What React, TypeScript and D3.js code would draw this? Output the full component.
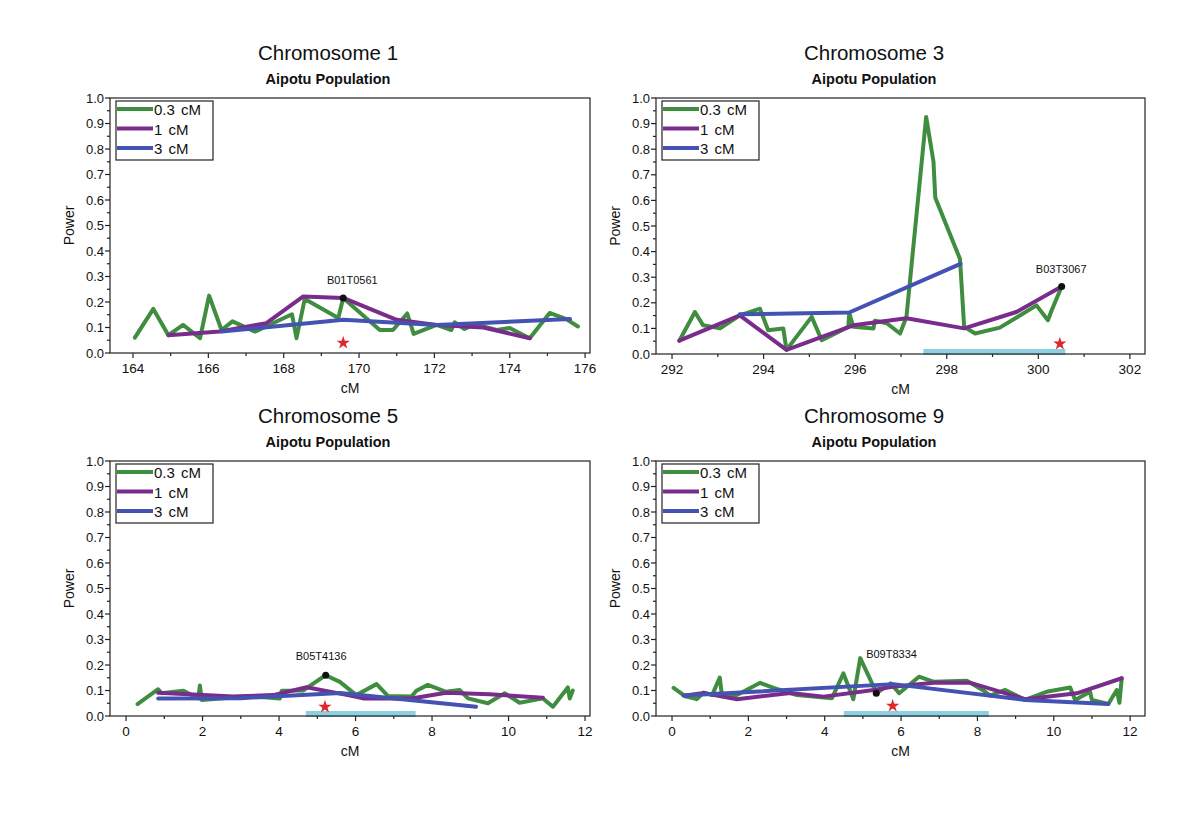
import React from "react";
import * as d3 from "d3";

type Pt = [number, number];

const seriesNames = ["0.3 cM", "1 cM", "3 cM"];
const seriesColors = ["#3f8d3f", "#7a2c8c", "#4452b2"];

// Chromosome 1
const chr1_03: Pt[] = [[164.05,0.06],[164.54,0.173],[164.94,0.07],[165.33,0.11],[165.78,0.058],[166.02,0.225],[166.35,0.09],[166.64,0.124],[167.24,0.084],[168.22,0.152],[168.34,0.058],[168.56,0.212],[169.45,0.137],[169.58,0.216],[170.55,0.09],[170.9,0.09],[171.28,0.155],[171.45,0.075],[172.06,0.11],[172.45,0.09],[172.54,0.12],[172.8,0.094],[173.07,0.113],[173.65,0.09],[174.0,0.098],[174.53,0.058],[175.06,0.157],[175.5,0.133],[175.81,0.104]];
const chr1_1: Pt[] = [[164.94,0.07],[166.3,0.084],[167.54,0.117],[168.52,0.222],[169.58,0.216],[171.0,0.13],[172.06,0.11],[173.3,0.1],[174.53,0.058]];
const chr1_3: Pt[] = [[166.35,0.084],[169.58,0.13],[172.06,0.11],[175.6,0.133]];

// Chromosome 3
const chr3_03: Pt[] = [[292.16,0.052],[292.5,0.164],[292.68,0.112],[293.05,0.1],[293.48,0.151],[293.92,0.177],[294.1,0.093],[294.43,0.1],[294.5,0.016],[295.05,0.145],[295.27,0.054],[295.85,0.106],[295.87,0.16],[295.96,0.106],[296.4,0.1],[296.43,0.13],[296.69,0.12],[296.98,0.08],[297.12,0.145],[297.55,0.926],[297.71,0.752],[297.75,0.61],[298.29,0.371],[298.38,0.106],[298.62,0.08],[299.16,0.103],[299.96,0.19],[300.21,0.132],[300.29,0.17],[300.51,0.264]];
const chr3_1: Pt[] = [[292.16,0.052],[293.48,0.151],[294.5,0.016],[295.96,0.112],[297.12,0.14],[298.38,0.1],[299.52,0.164],[300.51,0.264]];
const chr3_3: Pt[] = [[293.48,0.155],[295.87,0.162],[298.3,0.352]];

// Chromosome 5
const chr5_03: Pt[] = [[0.3,0.047],[0.84,0.105],[0.93,0.089],[1.5,0.099],[1.89,0.069],[1.93,0.12],[1.98,0.063],[3.24,0.078],[4.02,0.069],[4.07,0.099],[4.63,0.1],[5.22,0.16],[5.59,0.134],[6.02,0.082],[6.55,0.125],[6.85,0.078],[7.46,0.076],[7.59,0.099],[7.89,0.122],[8.37,0.095],[8.72,0.102],[8.94,0.069],[9.46,0.05],[9.9,0.089],[10.29,0.052],[10.9,0.069],[11.16,0.036],[11.55,0.112],[11.6,0.069],[11.68,0.1]];
const chr5_1: Pt[] = [[0.84,0.091],[2.8,0.076],[3.85,0.082],[4.72,0.113],[5.8,0.082],[6.2,0.069],[7.46,0.069],[8.37,0.091],[9.5,0.085],[10.9,0.072]];
const chr5_3: Pt[] = [[0.84,0.069],[3.0,0.07],[5.6,0.09],[9.15,0.036]];

// Chromosome 9
const chr9_03: Pt[] = [[0.04,0.11],[0.35,0.077],[0.65,0.066],[0.83,0.092],[1.05,0.082],[1.25,0.151],[1.31,0.077],[1.7,0.082],[2.31,0.13],[2.66,0.11],[3.27,0.082],[4.19,0.07],[4.49,0.167],[4.75,0.066],[4.93,0.227],[5.24,0.128],[5.35,0.089],[5.73,0.128],[5.95,0.089],[6.47,0.154],[6.86,0.134],[7.72,0.138],[8.16,0.1],[8.33,0.08],[8.73,0.102],[9.25,0.063],[9.81,0.095],[10.43,0.112],[10.56,0.063],[10.95,0.095],[11.0,0.063],[11.43,0.047],[11.65,0.102],[11.72,0.052],[11.78,0.148]];
const chr9_1: Pt[] = [[0.35,0.08],[0.83,0.09],[1.7,0.066],[3.1,0.09],[3.97,0.076],[5.28,0.102],[5.73,0.114],[6.86,0.13],[7.82,0.13],[9.25,0.066],[10.6,0.089],[11.78,0.148]];
const chr9_3: Pt[] = [[0.3,0.08],[5.8,0.125],[9.25,0.063],[11.43,0.047]];

const yTicks = [0, 0.1, 0.2, 0.3, 0.4, 0.5, 0.6, 0.7, 0.8, 0.9, 1.0];

interface PanelDef {
  title: string;
  domain: [number, number];
  xTicks: number[];
  series: Pt[][];
  marker: { name: string; x: number; y: number; labelX: number; labelY: number };
  star: Pt;
  interval: [number, number] | null;
  left: number;
  top: number;
  width: number;
  height: number;
}

const panels: PanelDef[] = [
  { title: "Chromosome 1", domain: [163.39, 176.13], xTicks: [164, 166, 168, 170, 172, 174, 176],
    series: [chr1_03, chr1_1, chr1_3],
    marker: { name: "B01T0561", x: 169.58, y: 0.216, labelX: 169.82, labelY: 0.27 },
    star: [169.58, 0.04], interval: null, left: 110, top: 98, width: 480, height: 255 },
  { title: "Chromosome 3", domain: [291.65, 302.33], xTicks: [292, 294, 296, 298, 300, 302],
    series: [chr3_03, chr3_1, chr3_3],
    marker: { name: "B03T3067", x: 300.51, y: 0.264, labelX: 300.5, labelY: 0.318 },
    star: [300.47, 0.04], interval: [297.49, 300.59], left: 656, top: 98, width: 489, height: 256 },
  { title: "Chromosome 5", domain: [-0.42, 12.13], xTicks: [0, 2, 4, 6, 8, 10, 12],
    series: [chr5_03, chr5_1, chr5_3],
    marker: { name: "B05T4136", x: 5.22, y: 0.16, labelX: 5.1, labelY: 0.22 },
    star: [5.2, 0.036], interval: [4.7, 7.57], left: 110, top: 461, width: 480, height: 255 },
  { title: "Chromosome 9", domain: [-0.42, 12.39], xTicks: [0, 2, 4, 6, 8, 10, 12],
    series: [chr9_03, chr9_1, chr9_3],
    marker: { name: "B09T8334", x: 5.35, y: 0.089, labelX: 5.75, labelY: 0.227 },
    star: [5.78, 0.04], interval: [4.5, 8.3], left: 656, top: 461, width: 489, height: 255 },
];

const FONT = "'Liberation Sans', Arial, Helvetica, sans-serif";

function Panel({ p }: { p: PanelDef }) {
  const x = d3.scaleLinear().domain(p.domain).range([p.left, p.left + p.width]);
  const y = d3.scaleLinear().domain([0, 1]).range([p.top + p.height, p.top]);
  const line = d3.line<Pt>().x((d) => x(d[0])).y((d) => y(d[1]));
  const bottom = p.top + p.height;
  const minorX = d3.range(Math.ceil(p.domain[0]), Math.floor(p.domain[1]) + 1).filter((v) => !p.xTicks.includes(v));
  const minorY = d3.range(0.05, 1, 0.1);
  const star = d3.symbol().type(d3.symbolStar).size(55)();
  const titleX = p.left + 218;
  return (
    <g fontFamily={FONT}>
      <text x={titleX} y={p.top - 38} textAnchor="middle" fontSize={20.5} fill="#111">{p.title}</text>
      <text x={titleX} y={p.top - 14} textAnchor="middle" fontSize={14.5} fontWeight="bold" fill="#111">Aipotu Population</text>
      {p.interval && (
        <rect x={x(p.interval[0])} y={bottom - 5} width={x(p.interval[1]) - x(p.interval[0])} height={6} fill="#8dd0e0" />
      )}
      <rect x={p.left} y={p.top} width={p.width} height={p.height} fill="none" stroke="#222" strokeWidth={1.2} />
      {yTicks.map((t) => (
        <g key={"y" + t}>
          <line x1={p.left - 5} x2={p.left} y1={y(t)} y2={y(t)} stroke="#222" strokeWidth={1.2} />
          <text x={p.left - 6} y={y(t) + 4.5} textAnchor="end" fontSize={13} fill="#111">{t.toFixed(1)}</text>
        </g>
      ))}
      {minorY.map((t) => (
        <line key={"my" + t} x1={p.left - 3} x2={p.left} y1={y(t)} y2={y(t)} stroke="#222" strokeWidth={1.2} />
      ))}
      {p.xTicks.map((t) => (
        <g key={"x" + t}>
          <line x1={x(t)} x2={x(t)} y1={bottom} y2={bottom + 5} stroke="#222" strokeWidth={1.2} />
          <text x={x(t)} y={bottom + 20} textAnchor="middle" fontSize={13.5} fill="#111">{t}</text>
        </g>
      ))}
      {minorX.map((t) => (
        <line key={"mx" + t} x1={x(t)} x2={x(t)} y1={bottom} y2={bottom + 3} stroke="#222" strokeWidth={1.2} />
      ))}
      <text x={p.left + p.width / 2} y={bottom + 40} textAnchor="middle" fontSize={14} fill="#111">cM</text>
      <text transform={`translate(${p.left - 36},${p.top + p.height / 2}) rotate(-90)`} textAnchor="middle" fontSize={14} fill="#111">Power</text>
      {p.series.map((s, i) => (
        <path key={"s" + i} d={line(s) || ""} fill="none" stroke={seriesColors[i]} strokeWidth={4} strokeLinejoin="round" strokeLinecap="round" />
      ))}
      <circle cx={x(p.marker.x)} cy={y(p.marker.y)} r={3.5} fill="#111" />
      <text x={x(p.marker.labelX)} y={y(p.marker.labelY)} textAnchor="middle" fontSize={11} fill="#111">{p.marker.name}</text>
      <path d={star || ""} transform={`translate(${x(p.star[0])},${y(p.star[1])})`} fill="#e0262b" />
      <g>
        <rect x={p.left + 6} y={p.top + 3} width={97} height={59} fill="#fff" stroke="#222" strokeWidth={1.2} />
        {seriesNames.map((n, i) => (
          <g key={"l" + i}>
            <line x1={p.left + 7} x2={p.left + 43} y1={p.top + 11 + i * 19.5} y2={p.top + 11 + i * 19.5} stroke={seriesColors[i]} strokeWidth={4} />
            <text x={p.left + 44} y={p.top + 17 + i * 19.5} fontSize={15} wordSpacing={2} fill="#111">{n}</text>
          </g>
        ))}
      </g>
    </g>
  );
}

export default function App() {
  return (
    <svg width={1200} height={817} style={{ position: "absolute", left: 0, top: 0, background: "#fff" }}>
      <rect width={1200} height={817} fill="#fff" />
      {panels.map((p) => (
        <Panel key={p.title} p={p} />
      ))}
    </svg>
  );
}
